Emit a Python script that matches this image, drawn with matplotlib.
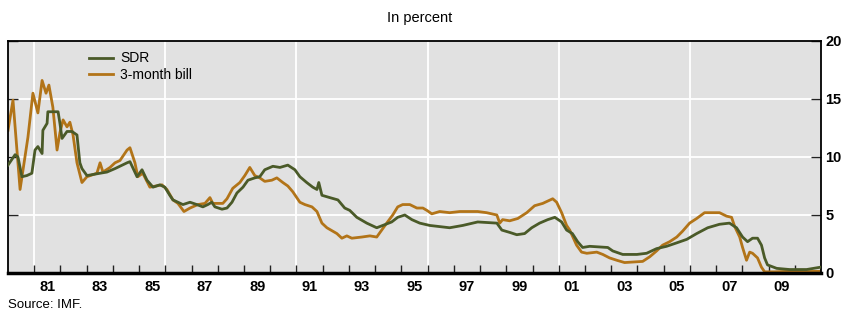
import numpy as np
import matplotlib
matplotlib.use("Agg")
import matplotlib.pyplot as plt

plt.rcParams['font.family'] = ['Liberation Sans', 'DejaVu Sans']

# decimal years and percent values
bill_years = [1980.00, 1980.19, 1980.46, 1980.76, 1980.95, 1981.14, 1981.30, 1981.45,
              1981.56, 1981.71, 1981.87, 1981.98, 1982.10, 1982.25, 1982.36, 1982.48,
              1982.63, 1982.82, 1983.01, 1983.39, 1983.51, 1983.62, 1983.89, 1984.08,
              1984.27, 1984.54, 1984.65, 1984.84, 1984.95, 1985.14, 1985.41, 1985.87,
              1986.06, 1986.29, 1986.48, 1986.71, 1986.94, 1987.24, 1987.51, 1987.70,
              1987.81, 1988.00, 1988.19, 1988.35, 1988.57, 1988.84, 1989.03, 1989.22,
              1989.41, 1989.60, 1989.79, 1990.06, 1990.25, 1990.48, 1990.67, 1990.86,
              1991.13, 1991.32, 1991.59, 1991.78, 1991.97, 1992.16, 1992.54, 1992.73,
              1992.92, 1993.11, 1993.49, 1993.80, 1994.06, 1994.25, 1994.44, 1994.67,
              1994.86, 1995.05, 1995.32, 1995.59, 1995.82, 1995.97, 1996.16, 1996.46,
              1996.84, 1997.23, 1997.91, 1998.25, 1998.64, 1998.75, 1998.86, 1999.13,
              1999.44, 1999.78, 2000.08, 2000.39, 2000.58, 2000.77, 2000.92, 2001.11,
              2001.30, 2001.42, 2001.68, 2001.87, 2002.07, 2002.45, 2002.68, 2002.94,
              2003.21, 2003.51, 2004.20, 2004.47, 2004.73, 2004.96, 2005.23, 2005.50,
              2005.72, 2005.99, 2006.26, 2006.56, 2006.87, 2007.13, 2007.40, 2007.59,
              2007.71, 2007.90, 2008.01, 2008.16, 2008.28, 2008.39, 2008.58, 2008.73,
              2008.85, 2009.23, 2009.80, 2010.37, 2010.98]
bill = [12.3, 14.9, 7.2, 11.7, 15.5, 13.8, 16.6, 15.5,
        16.2, 14.3, 10.6, 12.1, 13.2, 12.6, 13.0, 11.9,
        9.5, 7.8, 8.3, 8.6, 9.5, 8.7, 9.1, 9.5,
        9.7, 10.6, 10.8, 9.5, 8.3, 8.6, 7.4, 7.6,
        7.2, 6.3, 6.0, 5.3, 5.6, 5.9, 6.0, 6.5,
        6.0, 6.0, 6.0, 6.4, 7.3, 7.8, 8.4, 9.1,
        8.4, 8.2, 7.9, 8.0, 8.2, 7.8, 7.5, 7.0,
        6.1, 5.9, 5.7, 5.3, 4.3, 3.9, 3.4, 3.0,
        3.2, 3.0, 3.1, 3.2, 3.1, 3.7, 4.3, 5.0,
        5.7, 5.9, 5.9, 5.6, 5.6, 5.4, 5.1, 5.3,
        5.2, 5.3, 5.3, 5.2, 5.0, 4.3, 4.6, 4.5,
        4.7, 5.2, 5.8, 6.0, 6.2, 6.4, 6.1, 5.2,
        4.1, 3.7, 2.4, 1.8, 1.7, 1.8, 1.6, 1.3,
        1.1, 0.9, 1.0, 1.4, 1.9, 2.4, 2.7, 3.1,
        3.6, 4.3, 4.7, 5.2, 5.2, 5.2, 4.9, 4.8,
        4.0, 3.1, 2.2, 1.1, 1.8, 1.7, 1.3, 0.5,
        0.1, 0.1, 0.15, 0.12, 0.15]

sdr_years = [1980.00, 1980.27, 1980.38, 1980.53, 1980.72, 1980.91, 1981.03, 1981.14,
             1981.30, 1981.33, 1981.49, 1981.52, 1981.91, 1981.98, 1982.06, 1982.25,
             1982.44, 1982.63, 1982.74, 1982.82, 1983.01, 1983.51, 1983.77, 1984.08,
             1984.54, 1984.65, 1984.92, 1985.11, 1985.30, 1985.53, 1985.79, 1985.98,
             1986.17, 1986.29, 1986.48, 1986.67, 1986.94, 1987.20, 1987.43, 1987.62,
             1987.77, 1987.89, 1988.16, 1988.35, 1988.54, 1988.73, 1988.96, 1989.15,
             1989.41, 1989.60, 1989.79, 1990.10, 1990.37, 1990.67, 1990.94, 1991.13,
             1991.39, 1991.62, 1991.78, 1991.85, 1991.97, 1992.27, 1992.58, 1992.84,
             1993.03, 1993.30, 1993.68, 1994.06, 1994.29, 1994.63, 1994.86, 1995.13,
             1995.40, 1995.70, 1996.08, 1996.46, 1996.84, 1997.34, 1997.91, 1998.64,
             1998.83, 1999.13, 1999.40, 1999.70, 1999.97, 2000.27, 2000.58, 2000.85,
             2001.11, 2001.30, 2001.52, 2001.72, 2001.91, 2002.18, 2002.87, 2003.06,
             2003.44, 2003.98, 2004.35, 2004.73, 2005.11, 2005.50, 2005.88, 2006.26,
             2006.68, 2007.13, 2007.51, 2007.78, 2008.01, 2008.20, 2008.39, 2008.58,
             2008.73, 2008.85, 2008.96, 2009.31, 2009.80, 2010.45, 2010.98]
sdr = [9.3, 10.2, 10.0, 8.3, 8.4, 8.6, 10.6, 10.9,
       10.3, 12.3, 12.9, 13.9, 13.9, 12.9, 11.6, 12.2,
       12.2, 11.9, 9.5, 9.0, 8.4, 8.6, 8.7, 9.0,
       9.5, 9.6, 8.3, 8.9, 8.0, 7.4, 7.6, 7.4,
       6.7, 6.3, 6.1, 5.9, 6.1, 5.9, 5.7, 5.9,
       6.1, 5.7, 5.5, 5.6, 6.1, 6.9, 7.4, 8.0,
       8.2, 8.3, 8.9, 9.2, 9.1, 9.3, 8.9, 8.3,
       7.8, 7.4, 7.2, 7.8, 6.7, 6.5, 6.3, 5.6,
       5.4, 4.8, 4.3, 3.9, 4.1, 4.4, 4.8, 5.0,
       4.6, 4.3, 4.1, 4.0, 3.9, 4.1, 4.4, 4.3,
       3.7, 3.5, 3.3, 3.4, 3.9, 4.3, 4.6, 4.8,
       4.4, 3.7, 3.4, 2.7, 2.2, 2.3, 2.2, 1.9,
       1.6, 1.6, 1.7, 2.1, 2.3, 2.6, 2.9, 3.4,
       3.9, 4.2, 4.3, 3.9, 3.1, 2.7, 3.0, 3.0,
       2.4, 1.3, 0.7, 0.4, 0.3, 0.3, 0.5]

year_labels = ['81', '83', '85', '87', '89', '91', '93', '95', '97', '99',
               '01', '03', '05', '07', '09']

green = '#4a5a28'
orange = '#b27418'

fig = plt.figure(figsize=(8.43, 3.15), dpi=100)
ax = fig.add_axes([8/843, 42/315, 813/843, 232/315])
ax.set_facecolor('#e1e1e1')

ax.set_xlim(1980.0, 2011.0)
ax.set_ylim(0, 20)

# white grid
for yr in range(1981, 2011, 5):
    ax.axvline(yr, color='white', lw=1.3, zorder=1)
for v in (5, 10, 15):
    ax.axhline(v, color='white', lw=1.3, zorder=1)

ax.plot(sdr_years, sdr, color=green, lw=2.0, label='SDR', zorder=3)
ax.plot(bill_years, bill, color=orange, lw=2.0, label='3-month bill', zorder=2)

# x axis: inward ticks at year starts, labels centred in mid-year
ax.set_xticks(np.arange(1981, 2011, 1))
ax.tick_params(axis='x', which='major', direction='in', length=6, width=1,
               labelbottom=False, color='#222222')
lab_pos = [1981.5 + 2 * i for i in range(len(year_labels))]
ax.set_xticks(lab_pos, minor=True)
ax.set_xticklabels(year_labels, minor=True)
ax.tick_params(axis='x', which='minor', length=0, pad=5, labelsize=10.5)
for t in ax.get_xticklabels(minor=True):
    t.set_fontweight('bold')

# y axis on the right, inward ticks on both sides
ax.set_yticks([0, 5, 10, 15, 20])
ax.yaxis.tick_right()
ax.tick_params(axis='y', direction='in', length=7, width=1, left=True, right=True,
               labelleft=False, labelright=True, labelsize=10.5, pad=3,
               color='#222222')
for t in ax.get_yticklabels():
    t.set_fontweight('bold')

for side in ('top', 'left', 'right'):
    ax.spines[side].set_linewidth(1.3)
ax.spines['bottom'].set_linewidth(2.5)

leg = ax.legend(loc='upper left', bbox_to_anchor=(0.1, 0.955), frameon=False,
                fontsize=10, handlelength=1.7, handletextpad=0.5,
                labelspacing=0.15, borderpad=0, borderaxespad=0)

fig.text(420/843, 1 - 18/315, 'In percent', ha='center', va='center', fontsize=10.5)
fig.text(8/843, 1 - 305/315, 'Source: IMF.', ha='left', va='center', fontsize=9.5)

fig.savefig('out.png', dpi=100)
